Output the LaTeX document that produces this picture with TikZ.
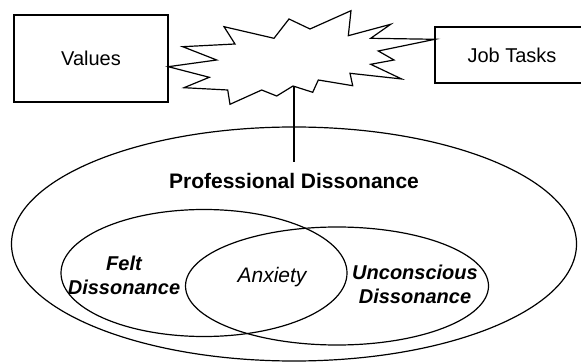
\documentclass[tikz,border=0pt]{standalone}
\usepackage{fontspec}
\setmainfont{Liberation Sans}
\usetikzlibrary{shapes.geometric}
\begin{document}
\begin{tikzpicture}[x=0.5pt,y=-0.5pt,
  line width=0.6pt,
  box/.style={draw, rectangle, inner sep=0pt, font=\fontsize{10}{12}\selectfont},
  ring/.style={draw, ellipse, inner sep=0pt},
  lbl/.style={align=center, inner sep=0pt, font=\fontsize{10}{12}\selectfont\bfseries\itshape},
]
\useasboundingbox (0,0) rectangle (581,362);
\clip (0,0) rectangle (581,362);

% the two boxes; the task box runs on past the right edge
\node[box, minimum width=77pt, minimum height=43.5pt] (values) at (91,58.5) {Values};
\node[box, minimum width=140pt, minimum height=28pt] (tasks) at (575,55) {};
\node[inner sep=0pt, font=\fontsize{10}{12}\selectfont] (taskslbl) at (512,55) {Job Tasks};

% the burst between the boxes
\draw[line join=miter]
  (168.3,66.7) -- (216.7,60) -- (182.7,46.7) -- (235,44) -- (224,26.7)
  -- (274,38.3) -- (289,19) -- (310,29) -- (351,10.7) -- (348.3,35.7)
  -- (390.7,24.3) -- (370.7,38.3) -- (435,39.3) -- (378.3,51) -- (394,60)
  -- (370.7,64.3) -- (401.7,79) -- (350,73.3) -- (352.7,85.7) -- (318.3,80)
  -- (312.7,92.3) -- (293,86) -- (276.7,96) -- (261.7,90) -- (230,104.3)
  -- (227.7,90) -- (184,87.7) -- (209.3,77.3) -- cycle;
\coordinate (burstbase) at (294,86.5);
\coordinate (lineend) at (294,162);
\draw (burstbase) -- (lineend);

% nested ellipses
\node[ring, minimum width=282.5pt, minimum height=117pt] (outer) at (294,244) {};
\node[ring, minimum width=143pt, minimum height=63.5pt] (felt) at (204,273) {};
\node[ring, minimum width=151.5pt, minimum height=59pt] (uncon) at (337,286) {};

% labels
\node[inner sep=0pt, font=\fontsize{10.5}{12}\selectfont\bfseries] (prof) at (294,181) {Professional Dissonance};
\node[lbl] (feltlbl) at (124,275) {Felt\\Dissonance};
\node[inner sep=0pt, font=\fontsize{10.5}{12}\selectfont\itshape] (anx) at (272,277) {Anxiety};
\node[lbl] (unclbl) at (415,284) {Unconscious\\Dissonance};
\end{tikzpicture}
\end{document}
